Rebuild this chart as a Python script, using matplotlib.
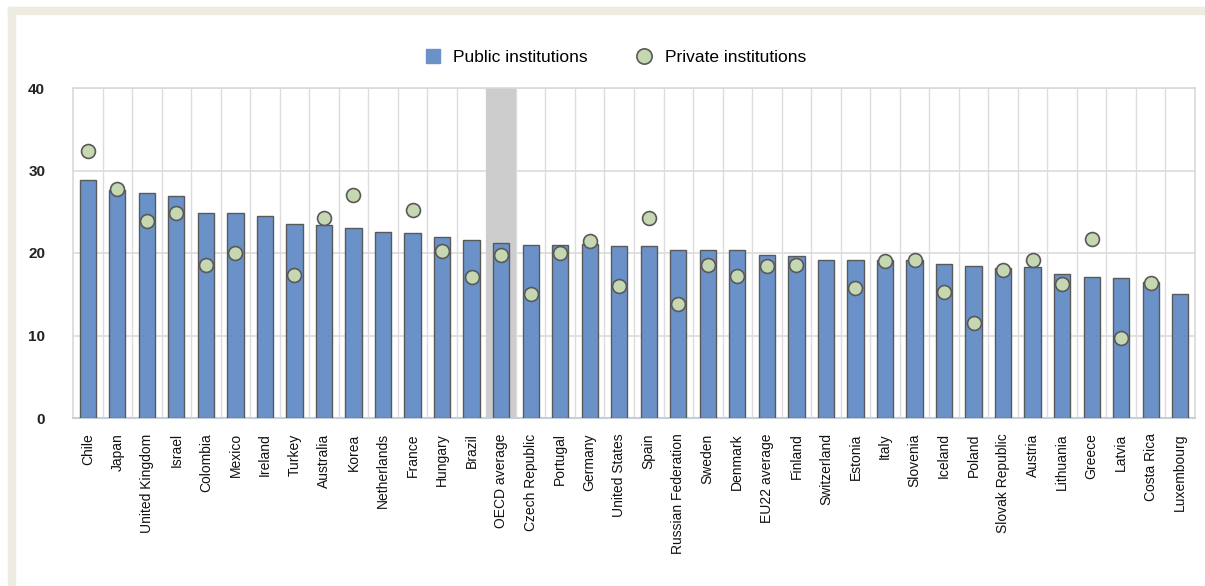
import numpy as np
import matplotlib
matplotlib.use("Agg")
import matplotlib.pyplot as plt
from matplotlib.patches import Rectangle
from matplotlib.lines import Line2D

plt.rcParams['font.family'] = ['Liberation Sans', 'DejaVu Sans']

# Dados
paises = ["Chile", "Japan", "United Kingdom", "Israel", "Colombia", "Mexico",
          "Ireland", "Turkey", "Australia", "Korea", "Netherlands", "France",
          "Hungary", "Brazil", "OECD average", "Czech Republic", "Portugal",
          "Germany", "United States", "Spain", "Russian Federation", "Sweden",
          "Denmark", "EU22 average", "Finland", "Switzerland", "Estonia", "Italy",
          "Slovenia", "Iceland", "Poland", "Slovak Republic", "Austria",
          "Lithuania", "Greece", "Latvia", "Costa Rica", "Luxembourg"]

publicas = [28.8, 27.6, 27.3, 26.9, 24.8, 24.8, 24.5, 23.5, 23.4, 23.0, 22.6,
            22.4, 22.0, 21.6, 21.2, 21.0, 21.0, 21.1, 20.9, 20.9, 20.4, 20.4,
            20.4, 19.8, 19.6, 19.2, 19.2, 19.2, 19.2, 18.7, 18.4, 18.2, 18.3,
            17.5, 17.1, 17.0, 16.5, 15.0]

privadas = [32.4, 27.8, 23.9, 24.8, 18.5, 20.0, np.nan, 17.3, 24.2, 27.0, np.nan,
            25.2, 20.3, 17.1, 19.8, 15.0, 20.0, 21.4, 16.0, 24.2, 13.8, 18.5,
            17.25, 18.4, 18.5, np.nan, 15.8, 19.0, 19.2, 15.3, 11.5, 18.0, 19.2,
            16.3, 21.7, 9.7, 16.4, np.nan]

destaque = "OECD average"

cor_barra = '#6A92C9'
cor_ponto = '#C5D8B2'
cor_borda = '#595959'

fig = plt.figure(figsize=(12.05, 5.86), dpi=100)

# moldura bege
fig.patches.append(Rectangle((8 / 1205, 1 - 14 / 586), 1, 7 / 586,
                             transform=fig.transFigure, color='#EEEBE1', zorder=0))
fig.patches.append(Rectangle((8 / 1205, 0), 7 / 1205, 1 - 7 / 586,
                             transform=fig.transFigure, color='#EEEBE1', zorder=0))

ax = fig.add_axes([73 / 1205, 1 - 418 / 586, 1122 / 1205, 330 / 586])

x = np.arange(len(paises))
i_dest = paises.index(destaque)
ax.axvspan(i_dest - 0.5, i_dest + 0.5, color='#CDCDCD', zorder=1, lw=0)

ax.bar(x, publicas, width=0.55, color=cor_barra, edgecolor=cor_borda,
       linewidth=1, zorder=3)
ax.plot(x, privadas, 'o', markersize=10, markerfacecolor=cor_ponto,
        markeredgecolor=cor_borda, markeredgewidth=1.2, zorder=4)

ax.set_xlim(-0.5, len(paises) - 0.5)
ax.set_ylim(0, 40)
ax.set_yticks([0, 10, 20, 30, 40])

# grade vertical nas fronteiras das categorias e horizontal
for b in np.arange(0.5, len(paises) - 0.5):
    ax.axvline(b, color='#DCDCDC', lw=1, zorder=0.5)
ax.yaxis.grid(True, color='#DCDCDC', lw=1.2, zorder=0.5)
ax.set_axisbelow(True)

for s in ['top', 'left', 'right']:
    ax.spines[s].set_color('#D9D9D9')
    ax.spines[s].set_linewidth(1.2)
ax.spines['bottom'].set_color('#C5CEDB')
ax.spines['bottom'].set_linewidth(1.5)

ax.set_xticks(x)
ax.set_xticklabels(paises, rotation=90, fontsize=10, color='#111111')
ax.tick_params(axis='x', length=0, pad=11)
ax.tick_params(axis='y', length=0, pad=20, labelsize=11, labelcolor='#222222')
for t in ax.get_yticklabels():
    t.set_fontweight('bold')

handles = [Line2D([], [], marker='s', linestyle='none', markersize=10,
                  markerfacecolor=cor_barra, markeredgecolor=cor_barra),
           Line2D([], [], marker='o', linestyle='none', markersize=11,
                  markerfacecolor=cor_ponto, markeredgecolor=cor_borda,
                  markeredgewidth=1.2)]
fig.legend(handles, ["Public institutions", "Private institutions"],
           loc='center', bbox_to_anchor=(614 / 1205, 1 - 57 / 586), ncol=2,
           frameon=False, fontsize=12.5, handletextpad=0.6, columnspacing=2.6,
           handlelength=1.2)

fig.savefig("out.png", dpi=100)
